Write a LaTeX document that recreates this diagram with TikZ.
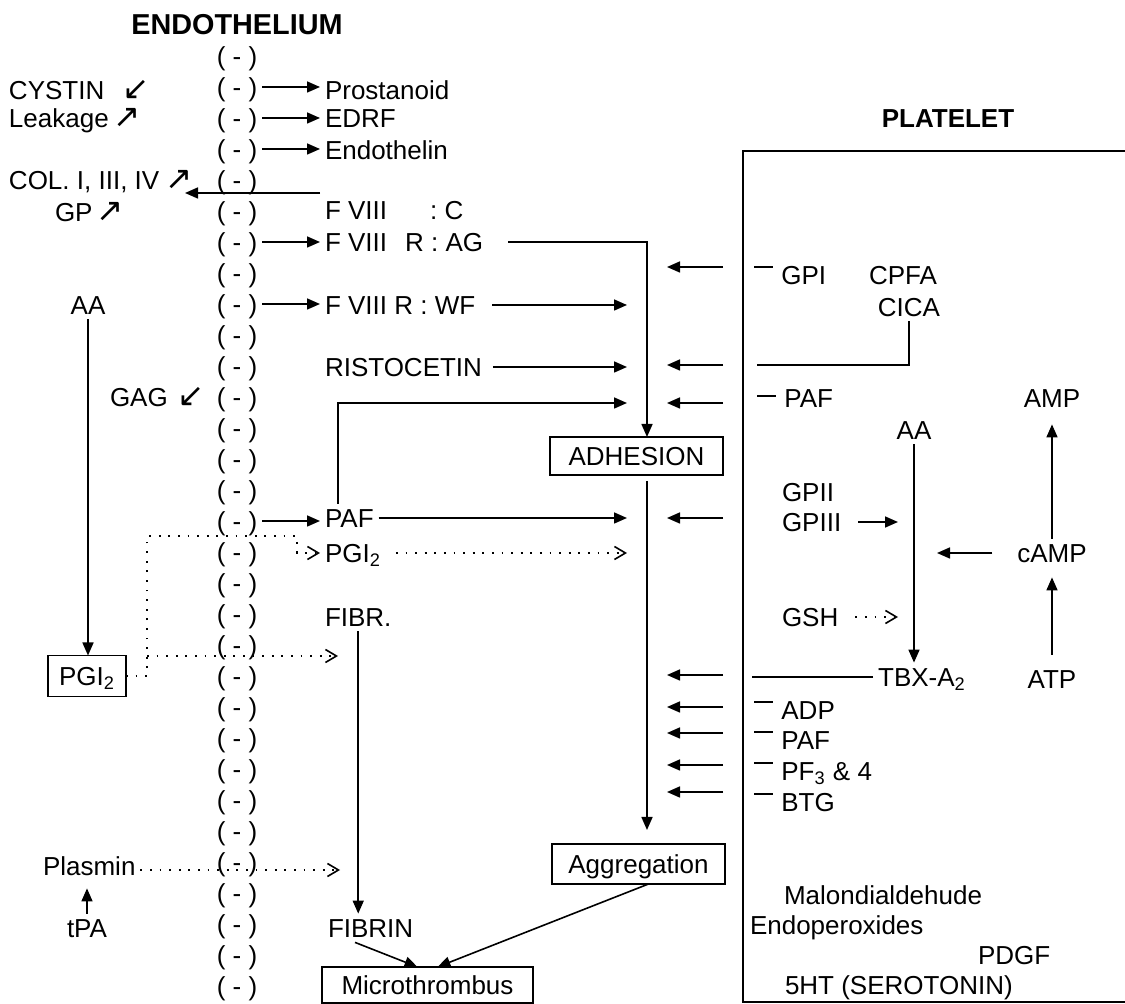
\documentclass[tikz,border=0pt]{standalone}
\usepackage{fontspec}
\setmainfont{Liberation Sans}
\newfontfamily\symf[Scale=1.25]{DejaVu Sans}
\usetikzlibrary{arrows.meta}
\newcommand{\dsh}[1][8pt]{\raisebox{#1}{\rule{9.5pt}{1pt}}\hspace{4.2pt}}
\tikzset{
  lbl/.style={inner sep=0pt,outer sep=2.5pt,text height=9.4pt,text depth=0pt,
    font=\fontsize{13pt}{15pt}\selectfont},
  lblw/.style={lbl,anchor=west},
  hdr/.style={lbl,font=\fontsize{13pt}{15pt}\selectfont\bfseries},
  boxn/.style={lbl,draw,line width=0.8pt,outer sep=0pt},
  ln/.style={line width=0.8pt},
  arr/.style={ln,-{Triangle[length=6.5pt,width=5.5pt]}},
  dotarr/.style={line width=1.4pt,dash pattern=on 0.9pt off 3.9pt,
    -{Straight Barb[length=5.5pt,width=6.5pt,line width=0.8pt]}},
}
\begin{document}
\begin{tikzpicture}[x=0.5pt,y=-0.5pt]
  \useasboundingbox (0,0) rectangle (1125,1004);
  % endothelium wall
  \node[hdr,font=\fontsize{14.4pt}{16pt}\selectfont\bfseries] (endo) at (237,25){ENDOTHELIUM};
  \foreach \i in {0,...,30}
    \node[lbl] (m\i) at (237,{56+31*\i}){( - )};
  % left side
  \node[lblw] (cyst) at (4,90){CYSTIN\hspace{9pt}{\symf ↙}};
  \node[lblw] (leak) at (4,118){Leakage\hspace{2.5pt}{\symf ↗}};
  \node[lblw] (col) at (4,180){COL. I, III, IV\hspace{3pt}{\symf ↗}};
  \node[lblw] (gp) at (50,212){GP\hspace{2pt}{\symf ↗}};
  \node[lbl] (aa1) at (88,305){AA}; \node[lblw] (gag) at (105,397){GAG\hspace{5pt}{\symf ↙}};
  \node[boxn,minimum width=39pt,minimum height=20.5pt] (pgibox) at (87,676){PGI\textsubscript{2}};
  \node[lblw] (plasmin) at (38,866){Plasmin}; \node[lbl] (tpa) at (87,928){tPA};
  % middle
  \node[lblw] (prost) at (320,90){Prostanoid}; \node[lblw] (edrf) at (320,118){EDRF};
  \node[lblw] (endot) at (320,150){Endothelin};
  \node[lblw] (fc) at (320,210){F VIII\hspace{21.5pt}: C};
  \node[lblw] (fag) at (320,242){F VIII\hspace{9pt}R : AG};
  \node[lblw] (fwf) at (320,305){F VIII R : WF}; \node[lblw] (rist) at (320,367){RISTOCETIN};
  \node[lblw] (paf1) at (320,518){PAF}; \node[lblw] (pgi) at (320,553){PGI\textsubscript{2}};
  \node[lblw] (fibr) at (320,617){FIBR.}; \node[lblw] (fibrin) at (323,928){FIBRIN};
  \node[boxn,minimum width=86.5pt,minimum height=19pt] (adh) at (636.5,456){ADHESION};
  \node[boxn,minimum width=86.5pt,minimum height=20pt] (agg) at (638.5,864){Aggregation};
  \node[boxn,minimum width=105.5pt,minimum height=18pt] (micro) at (427.5,985){Microthrombus};
  % platelet
  \node[hdr] (plat) at (948,118){PLATELET};
  \draw[ln] (1125,151) -- (743,151) -- (743,1002) -- (1125,1002);
  \node[lblw] (gpi) at (749,275){\dsh GPI}; \node[lbl] (cpfa) at (903,275){CPFA};
  \node[lbl] (cica) at (909,307){CICA}; \node[lblw] (paf2) at (752,398){\dsh[5pt]PAF};
  \node[lbl] (aa2) at (914,430){AA}; \node[lbl] (amp) at (1052,398){AMP};
  \node[lblw] (gpii) at (777,492){GPII}; \node[lblw] (gpiii) at (777,522){GPIII};
  \node[lbl] (camp) at (1052,553){cAMP}; \node[lblw] (gsh) at (777,617){GSH};
  \node[lbl] (tbx) at (922,677){TBX-A\textsubscript{2}}; \node[lbl] (atp) at (1052,679){ATP};
  \node[lblw] (adp) at (749,710){\dsh ADP}; \node[lblw] (paf3) at (749,740){\dsh PAF};
  \node[lblw] (pf) at (749,771){\dsh PF\textsubscript{3} \& 4}; \node[lblw] (btg) at (749,802){\dsh BTG};
  \node[lblw] (malon) at (779,895){Malondialdehude}; \node[lblw] (endop) at (745,925){Endoperoxides};
  \node[lblw] (pdgf) at (973,955){PDGF}; \node[lblw] (sero) at (780,985){5HT (SEROTONIN)};
  % secretion from the wall
  \draw[arr] (m1) -- (m1 -| prost.west); \draw[arr] (m2) -- (m2 -| edrf.west);
  \draw[arr] (m3) -- (m3 -| endot.west); \draw[arr] (m6) -- (m6 -| fag.west);
  \draw[arr] (m8) -- (m8 -| fwf.west); \draw[arr] (m15) -- (m15 -| paf1.west);
  \coordinate (cs) at (320,193); \coordinate (ce) at (185,193);
  \draw[arr] (cs) -- (ce);
  % towards adhesion / aggregation
  \coordinate (colw) at (627,0); \coordinate (vx) at (647,241);
  \draw[arr,shorten <=10pt] (fag) -| (vx |- adh.north);
  \draw[arr,shorten <=3pt,shorten >=7pt] (vx |- adh.south) -- (vx |- agg.north);
  \draw[arr,shorten <=6pt] (fwf) -- (fwf -| colw);
  \draw[arr,shorten <=3pt] (rist) -- (rist -| colw);
  \coordinate (rp) at (627,403);
  \draw[arr] ([xshift=9pt]paf1.north west) |- (rp);
  \draw[arr] (paf1) -- (paf1 -| colw);
  \draw[dotarr,shorten <=5pt] (pgi) -- (pgi -| colw);
  \foreach \y [count=\k] in {267,365,403,518,675,707,733,765,792}{
    \coordinate (pr\k) at (723,\y); \coordinate (pq\k) at (667,\y);
    \draw[arr] (pr\k) -- (pq\k);}
  % prostacyclin and fibrin
  \draw[arr] (aa1) -- (aa1 |- pgibox.north);
  \coordinate (dj) at (147,536); \coordinate (dk) at (297,536); \coordinate (df) at (338,656);
  \draw[dotarr] (pgibox.east) -| (dj) -- (dk) |- (pgi.west);
  \draw[dotarr] (dj |- df) -- (df);
  \draw[arr,shorten >=4pt] (tpa) -- (tpa |- plasmin.south);
  \coordinate (plend) at (340,870);
  \draw[dotarr] (plasmin.east |- plend) -- (plend);
  \draw[arr] (fibr) -- (fibr |- fibrin.north);
  \draw[arr] ([xshift=16pt]fibrin.south west) -- ([xshift=-5pt]micro.north);
  \draw[arr] ([xshift=5pt]agg.south) -- ([xshift=5pt]micro.north);
  % inside the platelet
  \coordinate (ci) at (757,365); \draw[ln] (cica) |- (ci);
  \coordinate (tb) at (752,674); \draw[ln] (tbx) -- (tbx -| tb);
  \draw[arr] (aa2) -- (aa2 |- tbx.north);
  \coordinate (g3) at (898,520); \draw[arr,shorten <=6pt] (gpiii) -- (gpiii -| g3);
  \coordinate (gs) at (898,617); \draw[dotarr,shorten <=6pt] (gsh) -- (gsh -| gs);
  \coordinate (cm) at (937,552); \draw[arr,shorten <=10pt] (camp) -- (camp -| cm);
  \draw[arr,shorten <=5pt,shorten >=5pt] (atp) -- (camp);
  \draw[arr,shorten >=6pt] (camp) -- (amp);
\end{tikzpicture}
\end{document}
